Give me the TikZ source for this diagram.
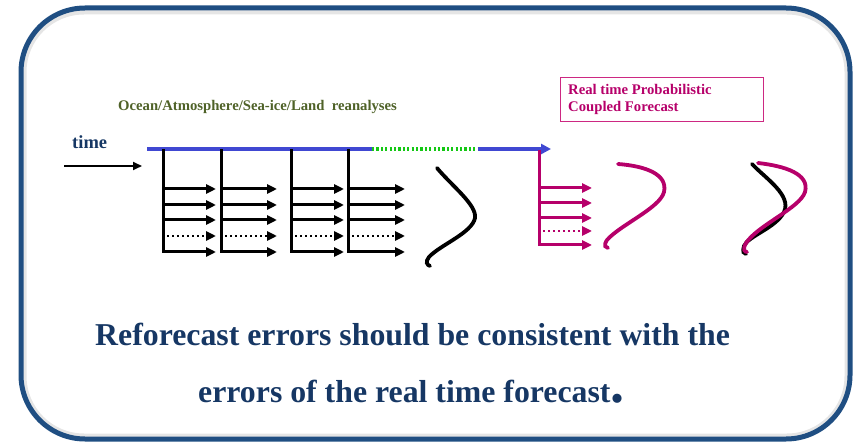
\documentclass[tikz,border=0pt]{standalone}
\usepackage{fontspec}
\setmainfont{Liberation Serif}
\usetikzlibrary{arrows.meta}
\definecolor{framec}{RGB}{31,78,130}
\definecolor{txtblue}{RGB}{22,55,100}
\definecolor{olive}{RGB}{79,98,40}
\definecolor{tlblue}{RGB}{64,72,210}
\definecolor{dotgreen}{RGB}{20,200,20}
\definecolor{mag}{RGB}{182,0,106}
\definecolor{boxmag}{RGB}{205,40,130}
\tikzset{
  ens/.style={line width=3pt, -{Triangle[length=10pt,width=9pt]}},
  ensdot/.style={line width=2.6pt, dash pattern=on 2.4pt off 2.6pt, -{Triangle[length=10pt,width=9pt]}},
  vline/.style={line width=3pt, line cap=rect},
  curve/.style={line width=3.8pt, line cap=round},
}
\begin{document}
\begin{tikzpicture}[x=1pt,y=-1pt]
\useasboundingbox (0,0) rectangle (858,443);
% frame shadow and frame
\draw[black!10, line width=5pt, rounded corners=60pt] (24,12) rectangle (847,436);
\draw[framec, line width=5pt, rounded corners=64pt] (21,8) rectangle (850,439);

% titles
\node[anchor=base west, inner sep=0, text=olive, font=\fontsize{14.7}{16}\selectfont\bfseries] (rean) at (118,111) {Ocean/Atmosphere/Sea-ice/Land\ \ reanalyses};
\node[anchor=base west, inner sep=0, text=txtblue, font=\fontsize{18.5}{20}\selectfont\bfseries] (time) at (72,149) {time};

% time arrow
\coordinate (ta) at (64,166);
\coordinate (tb) at (142,166);
\draw[line width=1.8pt, -{Triangle[length=9pt,width=8pt]}] (ta) -- (tb);

% time line
\coordinate (l0) at (147,149);
\coordinate (l1) at (372,149);
\coordinate (l2) at (478,149);
\coordinate (l3) at (551,149);
\draw[tlblue, line width=3.2pt] (l0) -- (l1);
\draw[dotgreen, line width=3.2pt, dash pattern=on 2.2pt off 2.2pt] (l1) -- (l2);
\draw[tlblue, line width=3.2pt, -{Triangle[length=10pt,width=10pt]}] (l2) -- (l3);

% black ensembles
\foreach \x/\e/\n in {163/216/a, 221/277/b, 291/344/c, 348/405/d}{
  \coordinate (top\n) at (\x,151);
  \coordinate (bot\n) at (\x,252);
  \draw[vline] (top\n) -- (bot\n);
  \foreach \y in {189,205,220}{
    \draw[ens] (\x,\y) -- (\e,\y);
  }
  \draw[ensdot] (\x+4,236) -- (\e,236);
  \draw[ens] (bot\n) -- (\e,252);
}
% black curve
\draw[curve] (437,168) .. controls (452,186) and (477,205) .. (475,218)
  .. controls (472,233) and (440,245) .. (429,257)
  .. controls (425,262) and (427,265) .. (430,266);

% magenta box
\node[draw=boxmag, line width=1pt, anchor=north west, minimum width=203pt, minimum height=44pt, inner sep=0] (rtbox) at (560,77) {};
\node[anchor=base west, inner sep=0, text=mag, font=\fontsize{14.7}{16}\selectfont\bfseries] (rt1) at (568,95) {Real time Probabilistic};
\node[anchor=base west, inner sep=0, text=mag, font=\fontsize{14.7}{16}\selectfont\bfseries] (rt2) at (568,112) {Coupled Forecast};

% magenta ensemble
\coordinate (mtop) at (539,152);
\coordinate (mbot) at (539,245);
\begin{scope}[mag]
\draw[vline] (mtop) -- (mbot);
\foreach \y in {188,203,218}{
  \draw[ens] (539,\y) -- (592,\y);
}
\draw[ensdot] (543,231) -- (592,231);
\draw[ens] (mbot) -- (592,245);
\end{scope}

% magenta curve
\draw[curve, mag] (618,164) .. controls (645,166) and (668,174) .. (664,192)
  .. controls (660,208) and (620,225) .. (607,240)
  .. controls (603,246) and (606,248) .. (608,248);

% right pair
\draw[curve, black] (752,164) .. controls (765,178) and (792,195) .. (784,212)
  .. controls (776,228) and (748,236) .. (744,246)
  .. controls (742,252) and (744,254) .. (746,254);
\draw[curve, mag] (758,163) .. controls (785,166) and (810,174) .. (805,192)
  .. controls (800,208) and (758,225) .. (746,243)
  .. controls (742,250) and (745,252) .. (747,252);

% bottom text
\node[anchor=base west, inner sep=0, text=txtblue, font=\fontsize{31.8}{34}\selectfont\bfseries] (line1) at (95,345) {Reforecast errors should be consistent with the};
\node[anchor=base west, inner sep=0, text=txtblue, font=\fontsize{31.8}{34}\selectfont\bfseries] (line2) at (198,402) {errors of the real time forecast{\fontsize{56}{56}\selectfont.}};
\end{tikzpicture}
\end{document}
